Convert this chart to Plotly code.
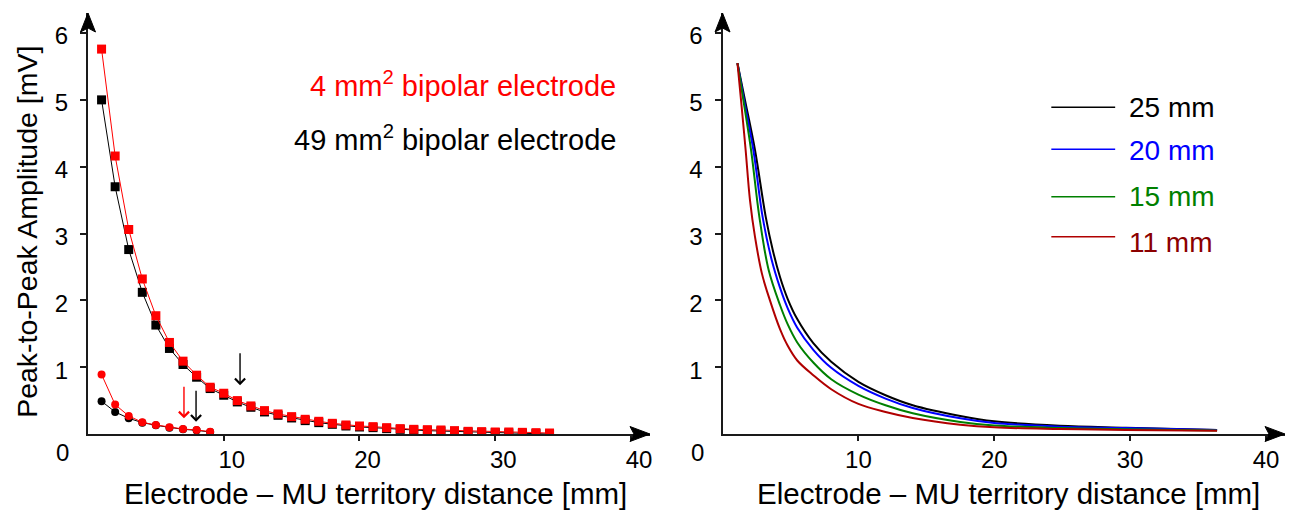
import plotly.graph_objects as go

FONT = "Liberation Sans, Arial, sans-serif"

# ---------------- Left panel data ----------------
dist_sq = list(range(1, 35))
amp_4mm_sq = [5.76, 4.16, 3.06, 2.32, 1.77, 1.37, 1.09, 0.88, 0.70, 0.61,
              0.50, 0.42, 0.35, 0.30, 0.26, 0.22, 0.19, 0.16, 0.135, 0.12,
              0.11, 0.095, 0.08, 0.07, 0.065, 0.06, 0.05, 0.04, 0.035, 0.03,
              0.03, 0.025, 0.02, 0.015]
amp_49mm_sq = [5.00, 3.70, 2.76, 2.12, 1.63, 1.28, 1.04, 0.85, 0.68, 0.58,
               0.48, 0.40, 0.33, 0.28, 0.24, 0.20, 0.17, 0.145, 0.12, 0.105,
               0.095, 0.08, 0.07, 0.06, 0.05, 0.045, 0.04, 0.03, 0.025, 0.02,
               0.015, 0.01, 0.005, 0.0]
dist_c = list(range(1, 10))
amp_4mm_c = [0.89, 0.44, 0.27, 0.175, 0.135, 0.10, 0.075, 0.06, 0.035]
amp_49mm_c = [0.49, 0.33, 0.235, 0.17, 0.13, 0.095, 0.07, 0.055, 0.03]

# arrows: (x, y_tail, y_head, colour)
arrows = [(11.2, 1.23, 0.73, "black"), (7.07, 0.73, 0.235, "red"), (7.96, 0.67, 0.184, "black")]

# ---------------- Right panel data ----------------
x_25 = [1.1, 1.65, 2.39, 3.18, 3.7, 4.23, 4.8, 5.5, 6.68, 8.0, 10, 12, 14, 17.5, 20, 24.8, 29.7, 36.4]
y_25 = [5.55, 5.0, 4.25, 3.25, 2.75, 2.35, 2.02, 1.72, 1.36, 1.08, 0.78, 0.58, 0.43, 0.27, 0.19, 0.125, 0.095, 0.06]
x_20 = [1.1, 1.58, 2.27, 2.95, 3.6, 4.23, 4.8, 5.5, 6.68, 8.0, 10, 12, 14, 17.5, 20, 24.8, 29.7, 36.4]
y_20 = [5.55, 5.0, 4.25, 3.25, 2.62, 2.19, 1.88, 1.59, 1.26, 0.99, 0.72, 0.53, 0.39, 0.235, 0.165, 0.11, 0.088, 0.058]
x_15 = [1.1, 1.53, 2.10, 2.71, 3.4, 4.23, 4.8, 5.5, 6.68, 8.0, 10, 12, 14, 17.5, 20, 24.8, 29.7, 36.4]
y_15 = [5.55, 5.0, 4.25, 3.25, 2.45, 1.93, 1.64, 1.37, 1.07, 0.82, 0.59, 0.43, 0.31, 0.18, 0.127, 0.09, 0.07, 0.052]
x_11 = [1.1, 1.36, 1.70, 2.02, 2.39, 2.9, 3.49, 4.23, 4.8, 5.5, 6.68, 8.0, 10, 12, 14, 17.5, 20, 24.8, 29.7, 36.4]
y_11 = [5.55, 5.0, 4.25, 3.5, 2.95, 2.4, 2.0, 1.57, 1.32, 1.10, 0.88, 0.67, 0.45, 0.33, 0.24, 0.14, 0.1, 0.075, 0.06, 0.05]

right_series = [("25 mm", x_25, y_25, "#000000", "#000000"),
                ("20 mm", x_20, y_20, "#0000ff", "#0000ff"),
                ("15 mm", x_15, y_15, "#008000", "#008000"),
                ("11 mm", x_11, y_11, "#b00000", "#8b0000")]
legend_y = [4.89, 4.26, 3.55, 2.95]
legend_text_y = [4.89, 4.24, 3.55, 2.87]

x_ticks = [10, 20, 30, 40]
y_ticks = [1, 2, 3, 4, 5, 6]
XR = [0, 41.4]
YR = [0, 6.3]
LEFT_DOM = [0, 0.4695]
RIGHT_DOM = [0.5301, 1]

fig = go.Figure()

# left panel traces (black first, red on top)
fig.add_trace(go.Scatter(x=dist_sq, y=amp_49mm_sq, mode="lines+markers",
                         line=dict(color="black", width=1),
                         marker=dict(symbol="square", size=9, color="black"),
                         xaxis="x", yaxis="y", showlegend=False))
fig.add_trace(go.Scatter(x=dist_c, y=amp_49mm_c, mode="lines+markers",
                         line=dict(color="black", width=1),
                         marker=dict(symbol="circle", size=8, color="black"),
                         xaxis="x", yaxis="y", showlegend=False))
fig.add_trace(go.Scatter(x=dist_sq, y=amp_4mm_sq, mode="lines+markers",
                         line=dict(color="red", width=1),
                         marker=dict(symbol="square", size=9, color="red"),
                         xaxis="x", yaxis="y", showlegend=False))
fig.add_trace(go.Scatter(x=dist_c, y=amp_4mm_c, mode="lines+markers",
                         line=dict(color="red", width=1),
                         marker=dict(symbol="circle", size=8, color="red"),
                         xaxis="x", yaxis="y", showlegend=False))

# right panel traces
for name, xs, ys, col, tcol in right_series:
    fig.add_trace(go.Scatter(x=xs, y=ys, mode="lines", name=name,
                             line=dict(color=col, width=2, shape="spline", smoothing=1.0),
                             xaxis="x2", yaxis="y2", showlegend=False))

axis_common = dict(showgrid=False, zeroline=False, showline=True, linecolor="#1a1a1a",
                   linewidth=2, ticks="outside", tickcolor="#1a1a1a", tickwidth=1.5,
                   tickfont=dict(family=FONT, size=24, color="black"))

fig.update_layout(
    width=1303, height=512,
    margin=dict(l=88, r=18, t=13, b=78),
    paper_bgcolor="white", plot_bgcolor="white",
    font=dict(family=FONT, color="black"),
    xaxis=dict(domain=LEFT_DOM, range=XR, anchor="y", tickvals=x_ticks,
               ticktext=[str(v) for v in x_ticks], ticklen=5, ticklabelshift=8,
               ticklabelstandoff=-2, **axis_common),
    yaxis=dict(domain=[0, 1], range=YR, anchor="x", tickvals=y_ticks,
               ticktext=[str(v) for v in y_ticks], ticklen=6, ticklabelshift=3,
               ticklabelstandoff=7, **axis_common),
    xaxis2=dict(domain=RIGHT_DOM, range=XR, anchor="y2", tickvals=x_ticks,
                ticktext=[str(v) for v in x_ticks], ticklen=5,
                ticklabelstandoff=-2, **axis_common),
    yaxis2=dict(domain=[0, 1], range=YR, anchor="x2", tickvals=y_ticks,
                ticktext=[str(v) for v in y_ticks], ticklen=6, ticklabelshift=3,
                ticklabelstandoff=7, **axis_common),
)

shapes = []
# axis arrowheads (paper-referenced so they are not clipped)
up_path = "M0,0 L-7.5,-19 L0,-15 L7.5,-19 Z"
right_path = "M0,0 L-20,7.5 L-16,0 L-20,-7.5 Z"
for dom in (LEFT_DOM, RIGHT_DOM):
    shapes.append(dict(type="path", xref="paper", yref="paper", xsizemode="pixel",
                       ysizemode="pixel", xanchor=dom[0], yanchor=1, path=up_path,
                       fillcolor="black", line=dict(color="black", width=1)))
    shapes.append(dict(type="path", xref="paper", yref="paper", xsizemode="pixel",
                       ysizemode="pixel", xanchor=dom[1], yanchor=0, path=right_path,
                       fillcolor="black", line=dict(color="black", width=1)))
# legend lines (right panel)
for (name, xs, ys, col, tcol), ly in zip(right_series, legend_y):
    shapes.append(dict(type="line", xref="x2", yref="y2", x0=24.2, x1=28.9, y0=ly, y1=ly,
                       line=dict(color=col, width=1.5)))

annotations = []
for (name, xs, ys, col, tcol), ty in zip(right_series, legend_text_y):
    annotations.append(dict(x=29.8, y=ty, xref="x2", yref="y2", text=name, showarrow=False,
                            xanchor="left", yanchor="middle",
                            font=dict(family=FONT, size=28, color=tcol)))
# left panel labels
annotations.append(dict(x=39.04, y=5.24, xref="x", yref="y", text="4 mm<sup>2</sup> bipolar electrode",
                        showarrow=False, xanchor="right", yanchor="middle",
                        font=dict(family=FONT, size=29, color="red")))
annotations.append(dict(x=39.04, y=4.43, xref="x", yref="y", text="49 mm<sup>2</sup> bipolar electrode",
                        showarrow=False, xanchor="right", yanchor="middle",
                        font=dict(family=FONT, size=29, color="black")))
# data arrows
for ax_x, y_tail, y_head, col in arrows:
    annotations.append(dict(x=ax_x, y=y_head, ax=ax_x, ay=y_tail, xref="x", yref="y",
                            axref="x", ayref="y", text="", showarrow=True, arrowhead=4,
                            arrowsize=1.4, arrowwidth=1.4, arrowcolor=col, standoff=0))
# axis titles and origin labels
for cx in (0.2398, 0.7694):
    annotations.append(dict(x=cx, y=-0.1425, xref="paper", yref="paper",
                            text="Electrode \u2013 MU territory distance [mm]", showarrow=False,
                            xanchor="center", yanchor="middle", font=dict(family=FONT, size=29.5)))
annotations.append(dict(x=-0.051, y=0.48, xref="paper", yref="paper",
                        text="Peak-to-Peak Amplitude [mV]", showarrow=False, textangle=-90,
                        xanchor="center", yanchor="middle", font=dict(family=FONT, size=28.5)))
for px in (-0.0217, 0.5088):
    annotations.append(dict(x=px, y=-0.0428, xref="paper", yref="paper", text="0",
                            showarrow=False, xanchor="center", yanchor="middle",
                            font=dict(family=FONT, size=24)))

fig.update_layout(shapes=shapes, annotations=annotations)
fig.write_html("out.html")
